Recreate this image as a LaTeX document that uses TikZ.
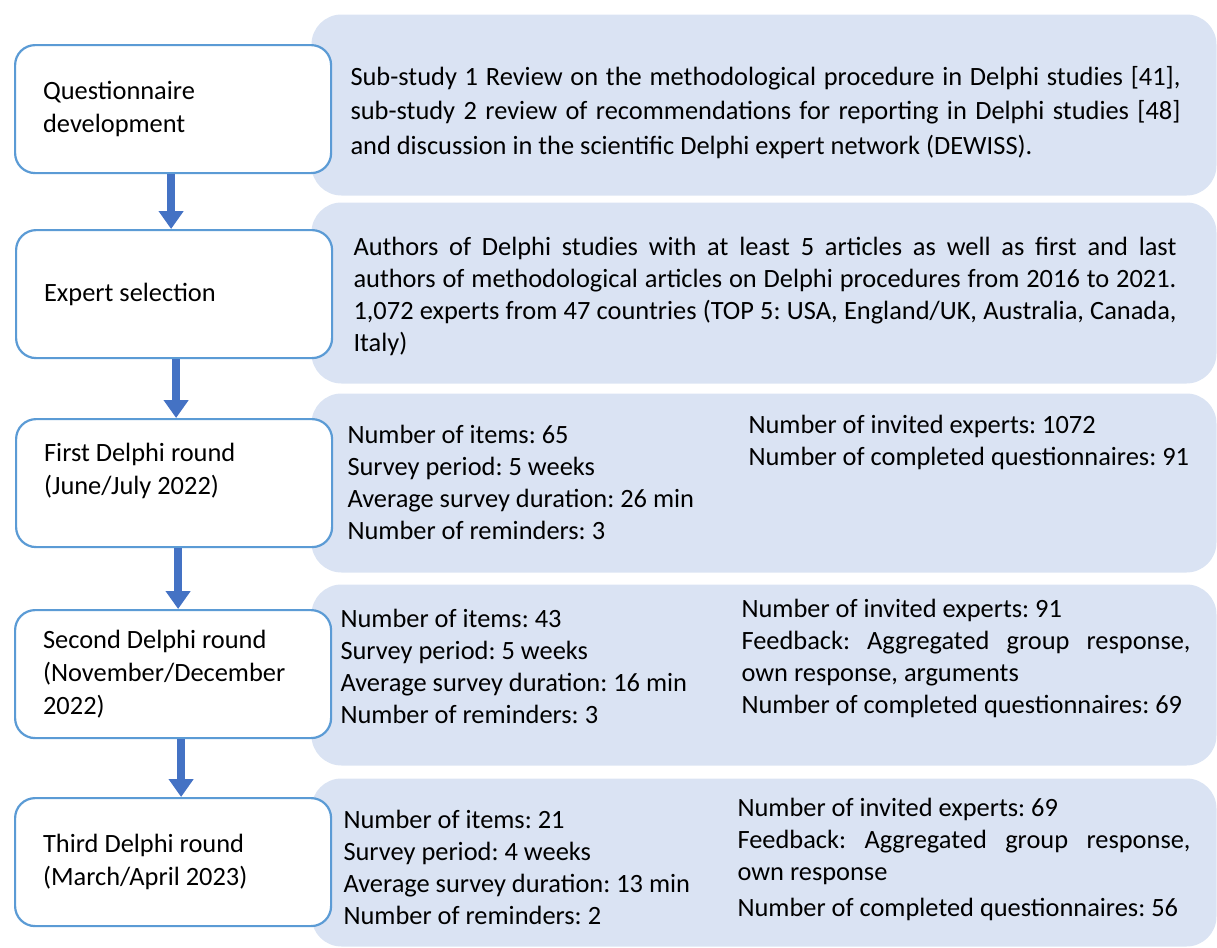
\documentclass[tikz,border=0pt]{standalone}
\usepackage{fontspec}
\setmainfont{Carlito}
\usepackage{tikz}
\usetikzlibrary{
	arrows.meta,
	positioning
}
\frenchspacing
\definecolor{stageBlue}{HTML}{5B9BD5}
\definecolor{arrowBlue}{HTML}{4472C4}
\definecolor{detailFill}{HTML}{DAE3F3}
\tikzset{every path/.append style={line width=0.5pt}}
\tikzset{
	stagebox/.style={draw=stageBlue,line width=1.1pt,fill=white,rounded corners=10pt,anchor=north west,
		minimum width=158pt,minimum height=64pt,text width=130pt,inner xsep=14pt,align=justify,
		font=\fontsize{13.2pt}{16.5pt}\selectfont},
	detailbox/.style={fill=detailFill,rounded corners=15pt,anchor=north west,
		minimum width=452.5pt,minimum height=90.5pt,inner sep=0pt},
	detailtext/.style={anchor=base west,inner sep=0pt,text width=#1,align=justify,
		font=\fontsize{13.2pt}{16pt}\selectfont},
	detailtext/.default=235pt,
	flowarrow/.style={draw=arrowBlue,line width=4pt,-{Triangle[width=12pt,length=9pt]}}
}
\newcommand{\tikzDetail}[3][]{\node (#3) at #2 [detailbox,#1]{};}
\newcommand{\jline}[2]{\makebox[#1][s]{#2}}

\begin{document}
\begin{tikzpicture}[x=0.5pt,y=-0.5pt]
	\useasboundingbox (0,0) rectangle (1217,948);

	% panels on the right
	\tikzDetail{(311,14)}{det1}
	\tikzDetail{(311,202)}{det2}
	\tikzDetail[minimum height=89.5pt]{(311,393)}{det3}
	\tikzDetail{(311,584)}{det4}
	\tikzDetail[minimum height=84pt]{(311,778)}{det5}

	% stages
	\node (quest) at (14,44) [stagebox] {Questionnaire\\development};
	\node (expert) at (15,229) [stagebox] {Expert selection};
	\node (round1) at (15,418) [stagebox,text depth=31pt] {First Delphi round\\(June/July 2022)};
	\node (round2) at (14,609) [stagebox] {Second Delphi round\\(November/December\\2022)};
	\node (round3) at (14,797) [stagebox] {Third Delphi round\\(March/April 2023)};

	\draw[flowarrow] ([xshift=-1pt]quest.south) -- ([xshift=-1.5pt]expert.north);
	\draw[flowarrow] ([xshift=1pt]expert.south) -- ([xshift=1pt]round1.north);
	\draw[flowarrow] ([xshift=2pt]round1.south) -- ([xshift=2.5pt]round2.north);
	\draw[flowarrow] ([xshift=4pt]round2.south) -- ([xshift=4pt]round3.north);

	% panel texts
	\node (det1text) at (350,85) [detailtext=440pt,font=\fontsize{13.2pt}{17.25pt}\selectfont] {%
		\jline{415pt}{Sub-study 1 Review on the methodological procedure in Delphi studies [41],}\\
		\jline{415pt}{sub-study 2 review of recommendations for reporting in Delphi studies [48]}\\
		and discussion in the scientific Delphi expert network (DEWISS).};
	\node (det2text) at (353,255) [detailtext=440pt] {%
		\jline{411.5pt}{Authors of Delphi studies with at least 5 articles as well as first and last}\\
		\jline{411.5pt}{authors of methodological articles on Delphi procedures from 2016 to 2021.}\\
		\jline{411.5pt}{1,072 experts from 47 countries (TOP 5: USA, England/UK, Australia, Canada,}\\
		Italy)};

	\node (det3left) at (347,443) [detailtext=200pt] {Number of items: 65\\Survey period: 5 weeks\\Average survey duration: 26 min\\Number of reminders: 3};
	\node (det3right) at (748,433) [detailtext] {Number of invited experts: 1072\\Number of completed questionnaires: 91};

	\node (det4left) at (340,627) [detailtext=200pt] {Number of items: 43\\Survey period: 5 weeks\\Average survey duration: 16 min\\Number of reminders: 3};
	\node (det4right) at (741,617) [detailtext] {Number of invited experts: 91\\
		\jline{224.5pt}{Feedback: Aggregated group response,}\\own response, arguments\\Number of completed questionnaires: 69};

	\node (det5left) at (343,828) [detailtext=200pt] {Number of items: 21\\Survey period: 4 weeks\\Average survey duration: 13 min\\Number of reminders: 2};
	\node (det5right) at (737,816) [detailtext] {Number of invited experts: 69\\
		\jline{226.5pt}{Feedback: Aggregated group response,}\\own response\\[2pt]Number of completed questionnaires: 56};
\end{tikzpicture}
\end{document}
